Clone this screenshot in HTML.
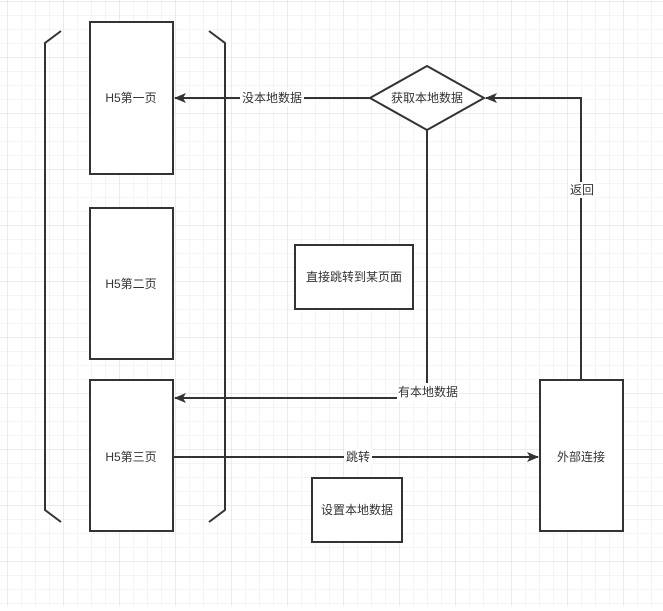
<!DOCTYPE html>
<html><head><meta charset="utf-8"><style>
html,body{margin:0;padding:0;background:#fff;}
svg text{font-family:"Liberation Sans","Noto Sans CJK SC",sans-serif;font-size:12px;fill:#333;}
</style></head><body>
<svg width="663" height="606" xmlns="http://www.w3.org/2000/svg">
<defs>
<pattern id="g" x="7.3" y="1.3" width="14" height="14" patternUnits="userSpaceOnUse">
<path d="M0 0V14M0 0H14" stroke="#ebebeb" stroke-width="1" fill="none"/>
</pattern>
<pattern id="G" x="7.3" y="1.3" width="56" height="56" patternUnits="userSpaceOnUse">
<path d="M0 0V56M0 0H56" stroke="#e0e0e0" stroke-width="1" fill="none"/>
</pattern>
<marker id="a" markerWidth="12" markerHeight="10" refX="11" refY="5" orient="auto" markerUnits="userSpaceOnUse">
<path d="M0 0L12 5L0 10L3 5Z" fill="#333"/>
</marker>
</defs>
<rect width="663" height="606" fill="#fff"/>
<rect width="663" height="606" fill="url(#g)"/>
<rect width="663" height="606" fill="url(#G)"/>
<g stroke="#333" stroke-width="2" fill="none">
<!-- connectors -->
<line x1="370" y1="98" x2="175" y2="98" marker-end="url(#a)"/>
<polyline points="427,130 427,383"/>
<line x1="397" y1="398" x2="175" y2="398" marker-end="url(#a)"/>
<line x1="174" y1="457" x2="538" y2="457" marker-end="url(#a)"/>
<polyline points="581,380 581,98 486,98" marker-end="url(#a)"/>
<!-- boxes -->
<rect x="90" y="22" width="83" height="152" fill="#fff"/>
<rect x="90" y="208" width="83" height="151" fill="#fff"/>
<rect x="90" y="380" width="83" height="151" fill="#fff"/>
<rect x="295" y="245" width="118" height="64" fill="#fff"/>
<rect x="312" y="478" width="90" height="64" fill="#fff"/>
<rect x="540" y="380" width="83" height="151" fill="#fff"/>
<polygon points="427,66 484,98 427,130 370,98" fill="#fff"/>
<!-- brackets -->
<polyline points="61,31 45,43 45,510 61,522"/>
<polyline points="209,31 225,43 225,510 209,522"/>
</g>
<g text-anchor="middle" dominant-baseline="central">
<rect x="240" y="90" width="64" height="16" fill="#fff"/>
<text x="272" y="98">没本地数据</text>
<rect x="397" y="385" width="62" height="16" fill="#fff"/>
<text x="428" y="392">有本地数据</text>
<rect x="344" y="449" width="28" height="16" fill="#fff"/>
<text x="358" y="457">跳转</text>
<rect x="568" y="182" width="28" height="16" fill="#fff"/>
<text x="582" y="190">返回</text>
<text x="131" y="98">H5第一页</text>
<text x="131" y="284">H5第二页</text>
<text x="131" y="457">H5第三页</text>
<text x="427" y="98">获取本地数据</text>
<text x="354" y="277">直接跳转到某页面</text>
<text x="357" y="510">设置本地数据</text>
<text x="581" y="457">外部连接</text>
</g>
</svg>
</body></html>
